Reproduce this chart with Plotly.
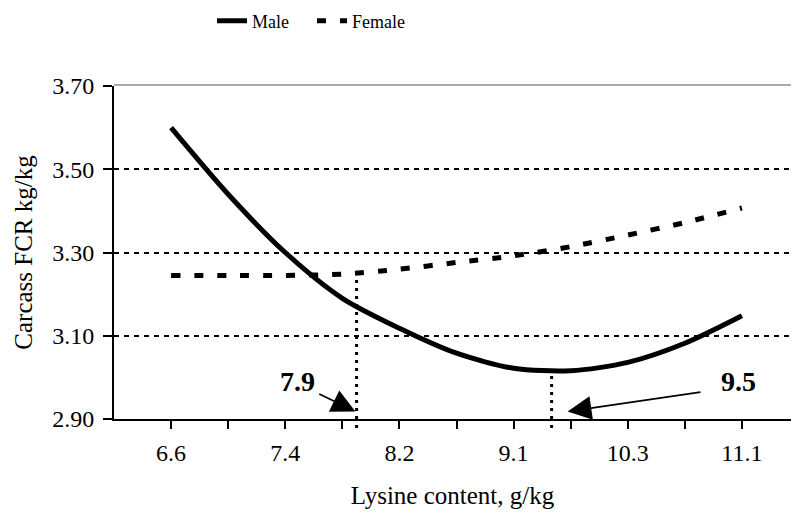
import numpy as np
import plotly.graph_objects as go

# ---- data ----
tick_labels = ["6.6", "7.4", "8.2", "9.1", "10.3", "11.1"]
tick_values = [6.6, 7.4, 8.2, 9.1, 10.3, 11.1]
lysine = [6.6, 7.0, 7.4, 7.8, 8.2, 8.65, 9.1, 9.7, 10.3, 10.7, 11.1]
male = [3.600, 3.440, 3.300, 3.190, 3.118, 3.058, 3.022, 3.016, 3.036, 3.082, 3.148]
female = [3.245, 3.245, 3.245, 3.248, 3.260, 3.276, 3.292, 3.314, 3.342, 3.372, 3.407]
y_ticks = [2.90, 3.10, 3.30, 3.50, 3.70]
opt_female = 7.9
opt_female_fcr = 3.250
opt_male = 9.5
opt_male_fcr = 3.013

# category axis: labels equally spaced, two slots per label
label_pos = [2 * i for i in range(len(tick_values))]


def pos(v):
    return np.interp(v, tick_values, label_pos)


x_all = pos(lysine)
font = "Liberation Serif, Times New Roman, serif"

fig = go.Figure()
fig.add_trace(go.Scatter(
    x=x_all, y=male, mode="lines", name="Male",
    line=dict(color="black", width=5, shape="spline", smoothing=0.8),
))
fig.add_trace(go.Scatter(
    x=x_all, y=female, mode="lines", name="Female",
    line=dict(color="black", width=5, dash="9px,14px", shape="spline", smoothing=0.8),
))

# dotted guide lines
for xv, yv in [(opt_female, opt_female_fcr), (opt_male, opt_male_fcr)]:
    fig.add_shape(type="line", xref="x", yref="y", x0=pos(xv), x1=pos(xv),
                  y0=y_ticks[0], y1=yv,
                  line=dict(color="black", width=3, dash="3px,5px"))
    fig.add_shape(type="line", xref="x", yref="paper", x0=pos(xv), x1=pos(xv),
                  y0=-0.027, y1=0,
                  line=dict(color="black", width=3, dash="3px,5px"))

# top border (grey)
fig.add_shape(type="line", xref="paper", yref="paper", x0=0, x1=1, y0=1.003, y1=1.003,
              line=dict(color="#8c8c8c", width=1.5))

# arrows + labels
fig.add_annotation(x=pos(opt_female) - 0.02, y=2.918, ax=2.57, ay=2.962, axref="x", ayref="y",
                   text="", showarrow=True, arrowhead=2, arrowsize=2.8, arrowwidth=1.7,
                   arrowcolor="black")
fig.add_annotation(x=2.22, y=2.989, text="<b>7.9</b>", showarrow=False,
                   font=dict(family=font, size=28, color="black"))
fig.add_annotation(x=pos(opt_male) + 0.28, y=2.918, ax=9.30, ay=2.965, axref="x", ayref="y",
                   text="", showarrow=True, arrowhead=2, arrowsize=2.8, arrowwidth=1.7,
                   arrowcolor="black")
fig.add_annotation(x=9.94, y=2.989, text="<b>9.5</b>", showarrow=False,
                   font=dict(family=font, size=28, color="black"))

tickvals_x = list(range(0, 11))
ticktext_x = []
for i in tickvals_x:
    ticktext_x.append(tick_labels[i // 2] if i % 2 == 0 else "")

fig.update_layout(
    width=783, height=504,
    margin=dict(l=106, r=0, t=78, b=93, autoexpand=False),
    paper_bgcolor="white", plot_bgcolor="white",
    font=dict(family=font, size=24, color="black"),
    showlegend=True,
    legend=dict(orientation="h", x=0.1448, xanchor="left", y=1.195, yanchor="middle",
                entrywidth=55, font=dict(family=font, size=18, color="black"),
                bgcolor="rgba(0,0,0,0)"),
    xaxis=dict(range=[-1, 10.86], tickvals=tickvals_x, ticktext=ticktext_x,
               showgrid=False, zeroline=False, showline=True, linecolor="black", linewidth=2,
               ticks="outside", ticklen=8, tickwidth=2, tickcolor="black",
               tickfont=dict(family=font, size=24), ticklabelstandoff=3,
               title=dict(text="Lysine content, g/kg", font=dict(family=font, size=25), standoff=22)),
    yaxis=dict(range=[2.9, 3.7], tickvals=y_ticks, tickformat=".2f",
               showgrid=True, gridcolor="black", gridwidth=2, griddash="5px,5px",
               zeroline=False, showline=True, linecolor="black", linewidth=2,
               ticks="outside", ticklen=9, tickwidth=2, tickcolor="black",
               tickfont=dict(family=font, size=24), ticklabelstandoff=4,
               title=dict(text="Carcass FCR kg/kg", font=dict(family=font, size=25), standoff=12)),
)

fig.write_html("out.html")
